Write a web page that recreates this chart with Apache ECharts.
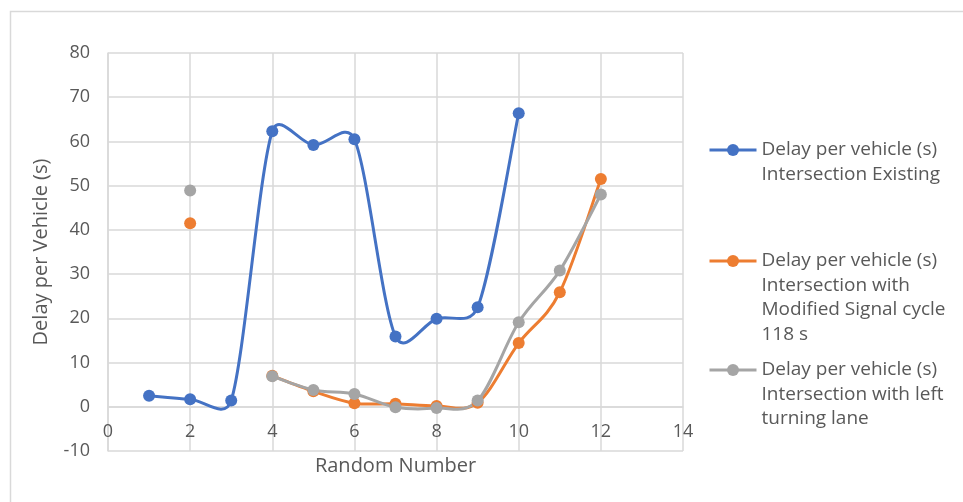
<!DOCTYPE html>
<html><head><meta charset="utf-8">
<script src="https://cdn.jsdelivr.net/npm/echarts@6/dist/echarts.min.js"></script>
<style>html,body{margin:0;padding:0;background:#fff;}#c{width:963px;height:502px;}</style>
</head><body><div id="c"></div>
<script>
const xValues = [1,2,3,4,5,6,7,8,9,10,11,12];
const existing = [2.5,1.7,1.4,62.3,59.2,60.5,15.9,19.9,22.5,66.4,null,null];
const modified = [null,41.5,null,7.0,3.5,0.8,0.7,0.2,0.9,14.4,25.9,51.5];
const leftLane = [null,48.9,null,6.9,3.8,2.9,-0.1,-0.3,1.4,19.1,30.8,48.0];
const names = [
  'Delay per vehicle (s)\nIntersection Existing',
  'Delay per vehicle (s)\nIntersection with\nModified Signal cycle\n118 s',
  'Delay per vehicle (s)\nIntersection with left\nturning lane'
];
const colors = ['#4472C4','#ED7D31','#A5A5A5'];
const FONT = 'Open Sans';
const LH = 24.5;
const GRID = {left:108, right:280, top:53, bottom:51};
const Y_MIN = -10, Y_MAX = 80;
const seriesValues = [existing, modified, leftLane];

function pairs(arr){ return xValues.map((x,i)=>[x, arr[i]===null ? '-' : arr[i]]); }
const chart = echarts.init(document.getElementById('c'));
const plotH = 502 - GRID.top - GRID.bottom;
const zeroOffset = (0 - Y_MIN) / (Y_MAX - Y_MIN) * plotH;

// spreadsheet-style smoothing: Catmull-Rom tangents, each control arm limited to half its segment
function arm(p, t, segLen){
  const len = Math.hypot(t[0], t[1]);
  const lim = 0.5 * segLen;
  const s = len > lim && len > 0 ? lim / len : 1;
  return [t[0]*s, t[1]*s];
}
function curveSeries(k){
  const arr = seriesValues[k];
  return {type:'custom', coordinateSystem:'cartesian2d', silent:true, z:1,
    data:[[xValues[0], 0]], encode:{x:0, y:1},
    renderItem:function(params, api){
      const segs = []; let cur = [];
      xValues.forEach((x,i)=>{
        if (arr[i] === null) { if (cur.length) segs.push(cur); cur = []; }
        else cur.push(api.coord([x, arr[i]]));
      });
      if (cur.length) segs.push(cur);
      let d = '';
      segs.forEach(P=>{
        if (P.length < 2) return;
        d += 'M' + P[0][0] + ' ' + P[0][1];
        for (let i = 0; i < P.length - 1; i++) {
          const p0 = P[Math.max(i-1,0)], p1 = P[i], p2 = P[i+1], p3 = P[Math.min(i+2,P.length-1)];
          const L = Math.hypot(p2[0]-p1[0], p2[1]-p1[1]);
          const a1 = arm(p1, [(p2[0]-p0[0])/6, (p2[1]-p0[1])/6], L);
          const a2 = arm(p2, [(p3[0]-p1[0])/6, (p3[1]-p1[1])/6], L);
          const c1 = [p1[0] + a1[0], p1[1] + a1[1]];
          const c2 = [p2[0] - a2[0], p2[1] - a2[1]];
          d += ' C' + c1[0] + ' ' + c1[1] + ' ' + c2[0] + ' ' + c2[1] + ' ' + p2[0] + ' ' + p2[1];
        }
      });
      return {type:'path', shape:{pathData:d}, style:{fill:'none', stroke:colors[k], lineWidth:3, lineJoin:'round', lineCap:'round'}};
    }};
}
function mk(k){
  return {name:names[k], type:'line', data:pairs(seriesValues[k]), connectNulls:false, z:3,
    symbol:'circle', symbolSize:12, showSymbol:true,
    lineStyle:{color:colors[k], width:3, opacity:0}, itemStyle:{color:colors[k]}};
}
function legend(k, firstLineY){
  const n = names[k].split('\n').length;
  return {data:[{name:names[k], lineStyle:{color:colors[k], width:3, opacity:1}, itemStyle:{color:colors[k]}}],
    orient:'vertical', left:708, top:firstLineY - (2*n-1)*LH/2, padding:0,
    itemWidth:47, itemHeight:15, itemGap:0,
    formatter: (nm) => '\n'.repeat(n-1) + nm,
    textStyle:{fontFamily:FONT, fontSize:19, color:'#595959', lineHeight:LH}};
}
chart.setOption({
  animation:false,
  color:colors,
  graphic:[{type:'rect', shape:{x:10.5,y:11.5,width:960,height:500}, style:{fill:null, stroke:'#d9d9d9', lineWidth:1.5}}],
  grid:Object.assign({containLabel:false, outerBoundsMode:'none'}, GRID),
  legend:[legend(0,150), legend(1,261), legend(2,370)],
  xAxis:{type:'value', min:0, max:14, interval:2, position:'bottom', offset:-zeroOffset,
    name:'Random Number', nameLocation:'middle', nameGap:50,
    nameTextStyle:{fontFamily:FONT, fontSize:20, color:'#595959'},
    axisLine:{show:true, onZero:false, lineStyle:{color:'#d9d9d9', width:1.5}},
    axisTick:{show:false},
    axisLabel:{fontFamily:FONT, fontSize:18, color:'#595959', margin:16},
    splitLine:{show:true, lineStyle:{color:'#d9d9d9', width:1.5}}},
  yAxis:{type:'value', min:Y_MIN, max:Y_MAX, interval:10,
    name:'Delay per Vehicle (s)', nameLocation:'middle', nameGap:57,
    nameTextStyle:{fontFamily:FONT, fontSize:20, color:'#595959'},
    axisLine:{show:true, lineStyle:{color:'#d9d9d9', width:1.5}},
    axisTick:{show:false},
    axisLabel:{fontFamily:FONT, fontSize:18, color:'#595959', margin:18},
    splitLine:{show:true, lineStyle:{color:'#d9d9d9', width:1.5}}},
  series:[curveSeries(0), curveSeries(1), curveSeries(2), mk(0), mk(1), mk(2)]
});
</script></body></html>
